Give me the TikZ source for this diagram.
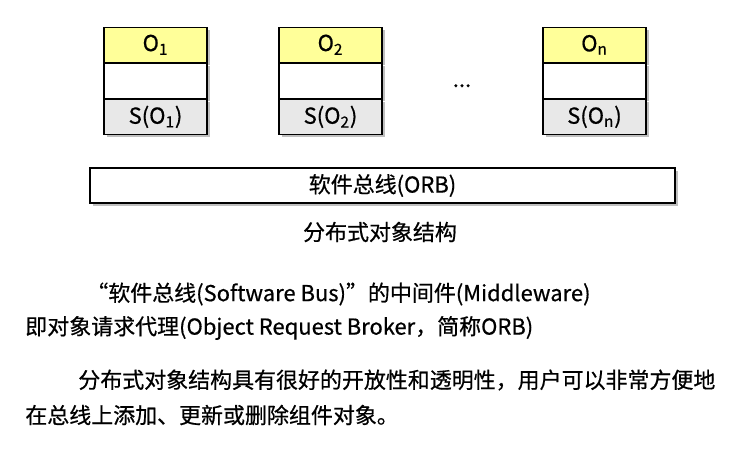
\documentclass[tikz,border=0pt]{standalone}
\usepackage{fontspec}
\setmainfont{Noto Sans CJK SC}[FakeBold=0.6]
\usetikzlibrary{positioning,shadows}

\definecolor{objyellow}{RGB}{255,255,153}
\definecolor{slotgray}{RGB}{232,232,232}

\tikzset{
  cell/.style={draw,line width=.6pt,minimum width=2.06cm,minimum height=.7cm,inner sep=0pt,
    drop shadow={shadow xshift=.05cm,shadow yshift=-.05cm,fill=black!25,opacity=1}},
  textline/.style={anchor=west,inner sep=0pt}
}

\begin{document}
\begin{tikzpicture}[font=\fontsize{12.5}{14}\selectfont]
\useasboundingbox (0,0) rectangle (15.02,-9);

\foreach \i/\x in {1/3.11,2/6.61,n/11.89}{
  \node[cell,fill=objyellow] (o\i) at (\x,-.895) {O\textsubscript{\i}};
  \node[cell,fill=white,below=0pt of o\i] (m\i) {};
  \node[cell,fill=slotgray,below=0pt of m\i] (s\i) {S(O\textsubscript{\i})};
}
\node[anchor=base] (dots) at (9.24,-1.74) {...};

\node[cell,fill=white,minimum width=11.7cm] (orb) at (7.65,-3.71) {软件总线(ORB)};
\node (caption) at (7.6,-4.64) {分布式对象结构};

\node[textline] (line1) at (1.72,-5.88) {“软件总线(Software Bus)”的中间件(Middleware)};
\node[textline] (line2) at (.5,-6.56) {即对象请求代理(Object Request Broker，简称ORB)};
\node[textline] (line3) at (1.56,-7.6) {分布式对象结构具有很好的开放性和透明性，用户可以非常方便地};
\node[textline] (line4) at (.5,-8.3) {在总线上添加、更新或删除组件对象。};

\end{tikzpicture}
\end{document}
